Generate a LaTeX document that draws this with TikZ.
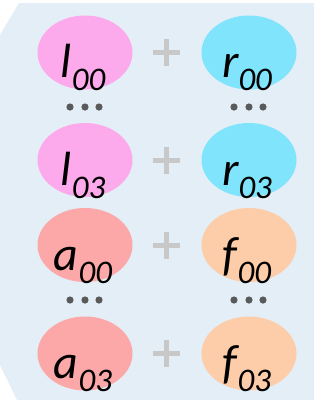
\documentclass[tikz,border=0pt]{standalone}
\usepackage{fontspec}
\setmainfont{Carlito}
\usepackage{tikz}
\usetikzlibrary{shapes.geometric,positioning,calc}

\definecolor{panelbg}{RGB}{228,238,246}
\definecolor{lpink}{RGB}{252,170,236}
\definecolor{rcyan}{RGB}{128,228,252}
\definecolor{ared}{RGB}{252,168,168}
\definecolor{fpeach}{RGB}{253,204,168}
\definecolor{plusgray}{RGB}{200,200,200}
\definecolor{dotgray}{RGB}{90,90,90}

\newcommand{\lbl}[2]{\fontsize{48}{48}\selectfont\itshape #1\raisebox{-13pt}{\fontsize{33}{33}\selectfont #2}}

\tikzset{
    term/.style={ellipse, minimum width=95pt, minimum height=74pt, inner sep=0pt},
    termtext/.style={anchor=base, inner sep=0pt},
    plus/.style={plusgray, line width=5pt},
    dot/.style={fill=dotgray, draw=none}
}

\begin{document}
\begin{tikzpicture}[x=1pt,y=-1pt]
    \useasboundingbox (0,0) rectangle (324,400);
    % panel
    \fill[panelbg] (19,3) -- (314,3) -- (314,400) -- (17,400) -- (0,365) -- (0,35) -- cycle;

    % terms
    \node[term, fill=lpink] (l00) at (85,52.5) {};
    \node[term, fill=rcyan] (r00) at (249,52.5) {};
    \node[term, fill=lpink] (l03) at (85,160) {};
    \node[term, fill=rcyan] (r03) at (249,160) {};
    \node[term, fill=ared] (a00) at (85,245) {};
    \node[term, fill=fpeach] (f00) at (249,245) {};
    \node[term, fill=ared] (a03) at (85,353.5) {};
    \node[term, fill=fpeach] (f03) at (249,353.5) {};

    % labels
    \node[termtext] at ([xshift=-2pt,yshift=-25pt]l00.center) {\lbl{l}{00}};
    \node[termtext] at ([xshift=-2pt,yshift=-25pt]r00.center) {\lbl{r}{00}};
    \node[termtext] at ([xshift=-2pt,yshift=-25pt]l03.center) {\lbl{l}{03}};
    \node[termtext] at ([xshift=-2pt,yshift=-25pt]r03.center) {\lbl{r}{03}};
    \node[termtext] at ([xshift=-2pt,yshift=-25pt]a00.center) {\lbl{a}{00}};
    \node[termtext] at ([xshift=-2pt,yshift=-25pt]f00.center) {\lbl{f}{00}};
    \node[termtext] at ([xshift=-2pt,yshift=-25pt]a03.center) {\lbl{a}{03}};
    \node[termtext] at ([xshift=-2pt,yshift=-25pt]f03.center) {\lbl{f}{03}};

    % plus signs
    \foreach \a/\b in {l00/r00, l03/r03, a00/f00, a03/f03} {
        \coordinate (p) at ($(\a.center)!0.5!(\b.center)+(-1,0)$);
        \draw[plus] ([xshift=-13.5pt]p) -- ([xshift=13.5pt]p);
        \draw[plus] ([yshift=-13.5pt]p) -- ([yshift=13.5pt]p);
    }

    % ellipsis dots
    \foreach \x in {70,85,99,234,249,263}
        \foreach \y in {107,300}
            \fill[dot] (\x,\y) circle (3.6pt);
\end{tikzpicture}
\end{document}
